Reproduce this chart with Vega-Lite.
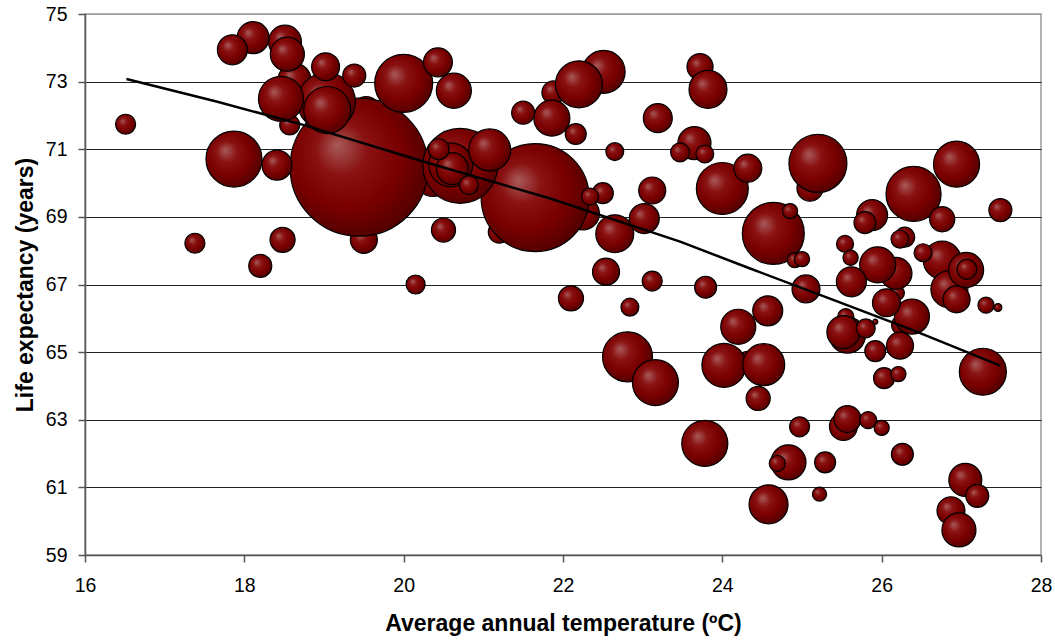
{
  "$schema": "https://vega.github.io/schema/vega-lite/v6.json",
  "width": 956,
  "height": 541,
  "autosize": {"type": "none"},
  "padding": {"left": 85, "top": 14, "right": 14, "bottom": 88},
  "background": "white",
  "config": {
    "view": {"stroke": "#999", "strokeWidth": 1.5},
    "font": "Liberation Sans"
  },
  "datasets": {
    "bubbles": [
      {"temp": 19.50, "life": 68.32, "pop": 7.3},
      {"temp": 19.53, "life": 72.16, "pop": 7.3},
      {"temp": 18.57, "life": 71.72, "pop": 4.0},
      {"temp": 18.63, "life": 73.05, "pop": 10.9},
      {"temp": 18.51, "life": 74.18, "pop": 10.9},
      {"temp": 22.25, "life": 69.10, "pop": 10.9},
      {"temp": 21.20, "life": 68.55, "pop": 4.8},
      {"temp": 20.37, "life": 70.15, "pop": 13.7},
      {"temp": 25.10, "life": 69.85, "pop": 6.8},
      {"temp": 24.32, "life": 64.73, "pop": 4.0},
      {"temp": 21.88, "life": 72.68, "pop": 5.3},
      {"temp": 26.19, "life": 66.75, "pop": 2.3},
      {"temp": 26.25, "life": 65.80, "pop": 4.0},
      {"temp": 25.55, "life": 66.05, "pop": 2.6},
      {"temp": 26.87, "life": 60.31, "pop": 7.8},
      {"temp": 26.18, "life": 67.33, "pop": 10.2},
      {"temp": 22.51, "life": 73.29, "pop": 18.5},
      {"temp": 23.72, "life": 73.44, "pop": 6.8},
      {"temp": 19.44, "life": 70.47, "pop": 190.4},
      {"temp": 21.65, "life": 69.57, "pop": 116.6},
      {"temp": 20.71, "life": 70.51, "pop": 56.3},
      {"temp": 24.64, "life": 68.51, "pop": 38.4},
      {"temp": 20.00, "life": 72.95, "pop": 33.6},
      {"temp": 19.03, "life": 72.41, "pop": 33.6},
      {"temp": 25.20, "life": 70.58, "pop": 33.6},
      {"temp": 17.87, "life": 70.71, "pop": 31.4},
      {"temp": 26.40, "life": 69.68, "pop": 30.3},
      {"temp": 24.00, "life": 69.84, "pop": 27.0},
      {"temp": 22.81, "life": 64.86, "pop": 25.0},
      {"temp": 19.04, "life": 72.16, "pop": 22.1},
      {"temp": 22.20, "life": 72.92, "pop": 22.1},
      {"temp": 27.27, "life": 64.42, "pop": 22.1},
      {"temp": 26.94, "life": 70.56, "pop": 21.2},
      {"temp": 23.16, "life": 64.10, "pop": 21.2},
      {"temp": 23.78, "life": 62.30, "pop": 21.2},
      {"temp": 18.46, "life": 72.49, "pop": 20.3},
      {"temp": 24.02, "life": 64.61, "pop": 19.4},
      {"temp": 20.59, "life": 70.54, "pop": 19.4},
      {"temp": 21.08, "life": 70.98, "pop": 17.6},
      {"temp": 24.52, "life": 64.63, "pop": 17.6},
      {"temp": 24.58, "life": 60.50, "pop": 15.2},
      {"temp": 22.65, "life": 68.50, "pop": 14.4},
      {"temp": 23.82, "life": 72.77, "pop": 14.4},
      {"temp": 26.76, "life": 67.72, "pop": 14.4},
      {"temp": 26.85, "life": 66.86, "pop": 13.7},
      {"temp": 21.86, "life": 71.92, "pop": 13.0},
      {"temp": 25.95, "life": 67.58, "pop": 13.0},
      {"temp": 25.57, "life": 65.50, "pop": 13.0},
      {"temp": 20.63, "life": 72.73, "pop": 12.3},
      {"temp": 24.20, "life": 65.75, "pop": 12.3},
      {"temp": 27.06, "life": 67.43, "pop": 12.3},
      {"temp": 26.38, "life": 66.05, "pop": 12.3},
      {"temp": 24.83, "life": 61.74, "pop": 12.3},
      {"temp": 18.54, "life": 73.81, "pop": 11.6},
      {"temp": 26.97, "life": 59.74, "pop": 11.6},
      {"temp": 23.65, "life": 71.18, "pop": 10.9},
      {"temp": 25.52, "life": 65.59, "pop": 10.9},
      {"temp": 27.05, "life": 61.22, "pop": 10.9},
      {"temp": 18.11, "life": 74.30, "pop": 10.2},
      {"temp": 20.61, "life": 70.43, "pop": 10.2},
      {"temp": 25.88, "life": 69.05, "pop": 9.6},
      {"temp": 17.85, "life": 73.94, "pop": 9.0},
      {"temp": 18.41, "life": 70.53, "pop": 9.0},
      {"temp": 23.02, "life": 68.95, "pop": 9.0},
      {"temp": 24.57, "life": 66.22, "pop": 9.0},
      {"temp": 25.62, "life": 67.08, "pop": 9.0},
      {"temp": 20.43, "life": 73.57, "pop": 8.4},
      {"temp": 23.19, "life": 71.92, "pop": 8.4},
      {"temp": 19.02, "life": 73.44, "pop": 7.8},
      {"temp": 24.32, "life": 70.44, "pop": 7.8},
      {"temp": 25.05, "life": 66.87, "pop": 7.8},
      {"temp": 26.06, "life": 66.46, "pop": 7.8},
      {"temp": 25.52, "life": 62.80, "pop": 7.8},
      {"temp": 23.12, "life": 69.78, "pop": 7.3},
      {"temp": 22.54, "life": 67.38, "pop": 7.3},
      {"temp": 26.94, "life": 66.56, "pop": 7.3},
      {"temp": 26.23, "life": 65.19, "pop": 7.3},
      {"temp": 25.57, "life": 63.02, "pop": 7.3},
      {"temp": 18.48, "life": 68.32, "pop": 6.3},
      {"temp": 22.10, "life": 66.59, "pop": 6.3},
      {"temp": 26.76, "life": 68.93, "pop": 6.3},
      {"temp": 20.50, "life": 68.61, "pop": 5.8},
      {"temp": 24.45, "life": 63.63, "pop": 5.8},
      {"temp": 19.38, "life": 73.18, "pop": 5.3},
      {"temp": 18.20, "life": 67.55, "pop": 5.3},
      {"temp": 21.50, "life": 72.08, "pop": 5.3},
      {"temp": 27.49, "life": 69.20, "pop": 5.3},
      {"temp": 27.20, "life": 60.75, "pop": 5.3},
      {"temp": 23.79, "life": 66.92, "pop": 4.8},
      {"temp": 25.79, "life": 68.83, "pop": 4.8},
      {"temp": 26.26, "life": 61.98, "pop": 4.8},
      {"temp": 20.44, "life": 71.00, "pop": 4.4},
      {"temp": 22.50, "life": 69.70, "pop": 4.4},
      {"temp": 22.16, "life": 71.45, "pop": 4.4},
      {"temp": 25.92, "life": 65.03, "pop": 4.4},
      {"temp": 26.03, "life": 64.23, "pop": 4.4},
      {"temp": 25.29, "life": 61.74, "pop": 4.4},
      {"temp": 16.51, "life": 71.74, "pop": 4.0},
      {"temp": 17.38, "life": 68.22, "pop": 4.0},
      {"temp": 23.12, "life": 67.10, "pop": 4.0},
      {"temp": 26.29, "life": 68.40, "pop": 4.0},
      {"temp": 27.07, "life": 67.45, "pop": 4.0},
      {"temp": 24.97, "life": 62.79, "pop": 4.0},
      {"temp": 20.15, "life": 67.00, "pop": 3.6},
      {"temp": 20.82, "life": 69.94, "pop": 3.6},
      {"temp": 23.47, "life": 70.91, "pop": 3.6},
      {"temp": 25.80, "life": 65.70, "pop": 3.6},
      {"temp": 22.65, "life": 70.93, "pop": 3.2},
      {"temp": 23.78, "life": 70.86, "pop": 3.2},
      {"temp": 22.84, "life": 66.33, "pop": 3.2},
      {"temp": 26.23, "life": 68.34, "pop": 3.2},
      {"temp": 26.52, "life": 67.94, "pop": 3.2},
      {"temp": 22.34, "life": 69.60, "pop": 2.9},
      {"temp": 25.54, "life": 68.20, "pop": 2.9},
      {"temp": 25.83, "life": 62.99, "pop": 2.9},
      {"temp": 27.31, "life": 66.39, "pop": 2.6},
      {"temp": 24.69, "life": 61.71, "pop": 2.6},
      {"temp": 24.85, "life": 69.17, "pop": 2.3},
      {"temp": 24.91, "life": 67.72, "pop": 2.3},
      {"temp": 25.00, "life": 67.75, "pop": 2.3},
      {"temp": 25.61, "life": 67.79, "pop": 2.3},
      {"temp": 26.21, "life": 64.35, "pop": 2.3},
      {"temp": 26.00, "life": 62.76, "pop": 2.3},
      {"temp": 25.22, "life": 60.80, "pop": 2.0},
      {"temp": 27.46, "life": 66.32, "pop": 0.6},
      {"temp": 25.92, "life": 65.90, "pop": 0.25}
    ],
    "trend": [
      {"temp": 16.52, "life": 73.08},
      {"temp": 17.65, "life": 72.41},
      {"temp": 18.74, "life": 71.72},
      {"temp": 20.33, "life": 70.58},
      {"temp": 21.83, "life": 69.55},
      {"temp": 23.47, "life": 68.27},
      {"temp": 24.34, "life": 67.48},
      {"temp": 25.40, "life": 66.54},
      {"temp": 26.39, "life": 65.65},
      {"temp": 27.49, "life": 64.60}
    ]
  },
  "layer": [
    {
      "data": {"name": "bubbles"},
      "mark": {
        "type": "point",
        "shape": "circle",
        "filled": true,
        "opacity": 1,
        "fillOpacity": 1,
        "fill": {
          "gradient": "radial",
          "x1": 0.34, "y1": 0.34, "r1": 0,
          "x2": 0.45, "y2": 0.45, "r2": 0.62,
          "stops": [
            {"offset": 0, "color": "#a85a5a"},
            {"offset": 0.3, "color": "#8a1212"},
            {"offset": 0.62, "color": "#7a0000"},
            {"offset": 1, "color": "#4a0000"}
          ]
        },
        "stroke": "#000",
        "strokeWidth": 1.2
      },
      "encoding": {
        "x": {
          "field": "temp",
          "type": "quantitative",
          "scale": {"domain": [16, 28], "nice": false, "zero": false},
          "axis": {
            "values": [16, 18, 20, 22, 24, 26, 28],
            "format": "d",
            "grid": false,
            "domainColor": "#555",
            "domainWidth": 1.5,
            "tickColor": "#555",
            "tickWidth": 1.5,
            "tickSize": 7,
            "labelFont": "Liberation Sans",
            "labelFontSize": 19.5,
            "labelColor": "#000",
            "labelPadding": 14,
            "labelFlush": false,
            "labelOverlap": false,
            "title": "Average annual temperature (ºC)",
            "titleFont": "Liberation Sans",
            "titleFontSize": 23,
            "titleFontWeight": "bold",
            "titleColor": "#000",
            "titlePadding": 18
          }
        },
        "y": {
          "field": "life",
          "type": "quantitative",
          "scale": {"domain": [59, 75], "nice": false, "zero": false},
          "axis": {
            "values": [59, 61, 63, 65, 67, 69, 71, 73, 75],
            "format": "d",
            "grid": true,
            "gridColor": {"condition": {"test": "datum.value === 75", "value": "#999"}, "value": "#222"},
            "gridWidth": 1.2,
            "domainColor": "#555",
            "domainWidth": 1.5,
            "tickColor": "#555",
            "tickWidth": 1.5,
            "tickSize": 7,
            "labelFont": "Liberation Sans",
            "labelFontSize": 19.5,
            "labelColor": "#000",
            "labelPadding": 11,
            "labelFlush": false,
            "labelOverlap": false,
            "title": "Life expectancy (years)",
            "titleFont": "Liberation Sans",
            "titleFontSize": 23,
            "titleFontWeight": "bold",
            "titleColor": "#000",
            "titlePadding": 8
          }
        },
        "size": {
          "field": "pop",
          "type": "quantitative",
          "scale": {"type": "linear", "domain": [0, 200], "range": [0, 20000]},
          "legend": null
        }
      }
    },
    {
      "data": {"name": "trend"},
      "mark": {"type": "line", "color": "#000", "strokeWidth": 2.5},
      "encoding": {
        "x": {"field": "temp", "type": "quantitative"},
        "y": {"field": "life", "type": "quantitative"}
      }
    }
  ]
}
